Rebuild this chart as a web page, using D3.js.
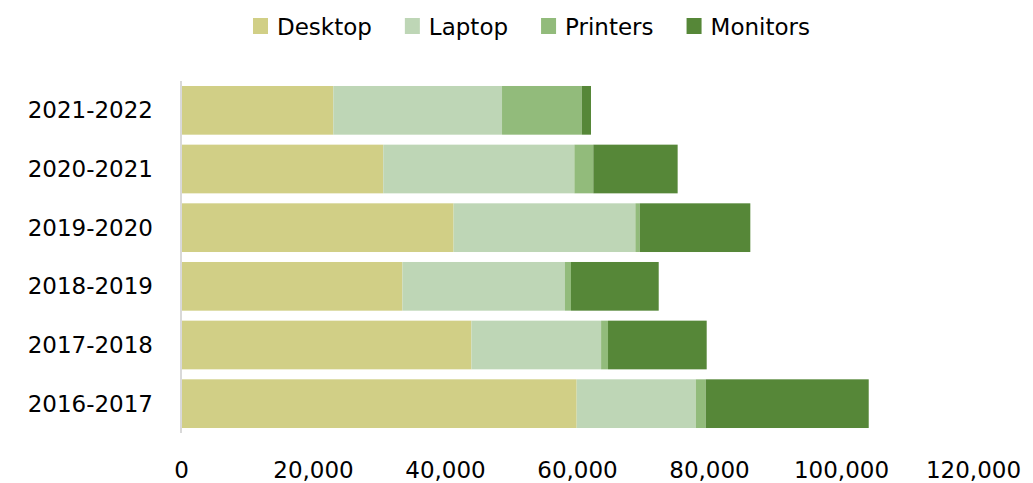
<!DOCTYPE html>
<html>
<head>
<meta charset="utf-8">
<script src="https://cdn.jsdelivr.net/npm/d3@7"></script>
<style>
  body { margin: 0; background: #fff; }
  text { font-family: "DejaVu Sans", sans-serif; fill: #000; }
</style>
</head>
<body>
<svg width="1033" height="483"></svg>
<script>
// data, top row first
var years = ["2021-2022", "2020-2021", "2019-2020", "2018-2019", "2017-2018", "2016-2017"];
var series = ["Desktop", "Laptop", "Printers", "Monitors"];
var desktop  = [23080, 30650, 41300, 33550, 44000, 59950];
var laptop   = [25560, 28950, 27540, 24630, 19650, 18040];
var printers = [12070, 2870, 660, 910, 1050, 1510];
var monitors = [1410, 12780, 16760, 13290, 14950, 24700];
var xTicks = [0, 20000, 40000, 60000, 80000, 100000, 120000];
var colors = ["#d1cf86", "#bed6b6", "#92bb7b", "#568738"];

var svg = d3.select("svg");

var rows = years.map(function (y, i) {
    return { year: y, Desktop: desktop[i], Laptop: laptop[i], Printers: printers[i], Monitors: monitors[i] };
});

var x = d3.scaleLinear()
    .domain([0, 120000])
    .range([181, 973]);

var y = d3.scaleBand()
    .domain(years)
    .range([81, 433])
    .paddingInner(0.17)
    .paddingOuter(0.085);

var color = d3.scaleOrdinal().domain(series).range(colors);

var stacked = d3.stack().keys(series)(rows);

// bars
svg.append("g")
    .selectAll("g")
    .data(stacked)
    .enter().append("g")
    .attr("fill", function (d) { return color(d.key); })
    .selectAll("rect")
    .data(function (d) { return d; })
    .enter().append("rect")
    .attr("x", function (d) { return x(d[0]); })
    .attr("y", function (d) { return y(d.data.year); })
    .attr("width", function (d) { return x(d[1]) - x(d[0]); })
    .attr("height", y.bandwidth());

// vertical axis line
svg.append("line")
    .attr("x1", x(0)).attr("x2", x(0))
    .attr("y1", 81).attr("y2", 433)
    .attr("stroke", "#d9d9d9")
    .attr("stroke-width", 2);

// x axis labels
var xAxis = svg.append("g")
    .attr("transform", "translate(0,459)")
    .call(d3.axisBottom(x).tickValues(xTicks).tickSize(0).tickFormat(d3.format(",")));
xAxis.select(".domain").remove();
xAxis.selectAll("text")
    .attr("font-size", "23px")
    .attr("font-family", "DejaVu Sans")
    .attr("dy", "0.71em");

// y axis labels
var yAxis = svg.append("g")
    .attr("transform", "translate(" + (x(0) - 28) + ",0)")
    .call(d3.axisLeft(y).tickSize(0));
yAxis.select(".domain").remove();
yAxis.selectAll("text")
    .attr("font-size", "23px")
    .attr("font-family", "DejaVu Sans")
    .attr("x", 0)
    .attr("dy", "0.35em");

// legend
var legend = svg.append("g").attr("class", "legend");
var lx = 253;
series.forEach(function (s) {
    legend.append("rect")
        .attr("x", lx).attr("y", 18)
        .attr("width", 15).attr("height", 16)
        .attr("fill", color(s));
    var t = legend.append("text")
        .attr("x", lx + 24)
        .attr("y", 35)
        .attr("font-size", "23px")
        .text(s);
    lx += 24 + t.node().getComputedTextLength() + 33;
});
</script>
</body>
</html>
